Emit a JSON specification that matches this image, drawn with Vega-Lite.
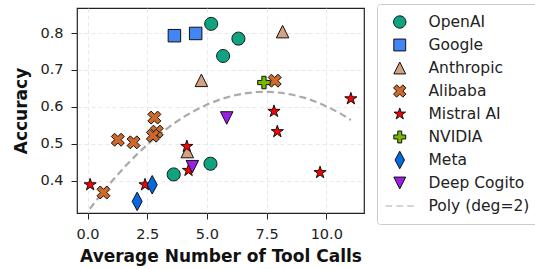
{
  "$schema": "https://vega.github.io/schema/vega-lite/v6.json",
  "width": 287,
  "height": 205,
  "autosize": {"type": "none"},
  "padding": {"left": 77, "top": 8, "right": 171, "bottom": 56},
  "background": "white",
  "config": {
    "font": "DejaVu Sans",
    "view": {"stroke": "#222222", "strokeWidth": 1.2},
    "axis": {
      "domain": false,
      "grid": true,
      "gridColor": "#e3e3e3",
      "gridDash": [4, 3],
      "gridWidth": 0.8,
      "tickColor": "#222222",
      "tickSize": 6,
      "tickWidth": 1,
      "labelFont": "DejaVu Sans",
      "labelFontSize": 14.5,
      "labelColor": "#222222",
      "labelPadding": 8,
      "titleFont": "DejaVu Sans",
      "titleFontSize": 17,
      "titleFontWeight": "bold",
      "titleColor": "#111111"
    }
  },
  "datasets": {
    "models": [
      {"series": "OpenAI", "calls": 5.18, "acc": 0.825},
      {"series": "OpenAI", "calls": 6.32, "acc": 0.785},
      {"series": "OpenAI", "calls": 5.68, "acc": 0.738},
      {"series": "OpenAI", "calls": 3.61, "acc": 0.417},
      {"series": "OpenAI", "calls": 5.15, "acc": 0.446},
      {"series": "Google", "calls": 3.64, "acc": 0.793},
      {"series": "Google", "calls": 4.53, "acc": 0.799},
      {"series": "Anthropic", "calls": 8.17, "acc": 0.804},
      {"series": "Anthropic", "calls": 4.77, "acc": 0.672},
      {"series": "Anthropic", "calls": 4.18, "acc": 0.479},
      {"series": "Alibaba", "calls": 7.84, "acc": 0.671},
      {"series": "Alibaba", "calls": 2.8, "acc": 0.571},
      {"series": "Alibaba", "calls": 2.9, "acc": 0.533},
      {"series": "Alibaba", "calls": 2.74, "acc": 0.522},
      {"series": "Alibaba", "calls": 1.27, "acc": 0.511},
      {"series": "Alibaba", "calls": 1.93, "acc": 0.504},
      {"series": "Alibaba", "calls": 0.67, "acc": 0.368},
      {"series": "Mistral AI", "calls": 0.11, "acc": 0.389},
      {"series": "Mistral AI", "calls": 2.41, "acc": 0.389},
      {"series": "Mistral AI", "calls": 4.16, "acc": 0.493},
      {"series": "Mistral AI", "calls": 4.23, "acc": 0.428},
      {"series": "Mistral AI", "calls": 7.81, "acc": 0.588},
      {"series": "Mistral AI", "calls": 7.95, "acc": 0.533},
      {"series": "Mistral AI", "calls": 9.74, "acc": 0.422},
      {"series": "Mistral AI", "calls": 11.03, "acc": 0.622},
      {"series": "NVIDIA", "calls": 7.39, "acc": 0.666},
      {"series": "Meta", "calls": 2.71, "acc": 0.389},
      {"series": "Meta", "calls": 2.08, "acc": 0.344},
      {"series": "Deep Cogito", "calls": 5.83, "acc": 0.57},
      {"series": "Deep Cogito", "calls": 4.39, "acc": 0.438}
    ],
    "poly": [
      {"calls": 0.1, "acc": 0.324},
      {"calls": 0.6, "acc": 0.3658},
      {"calls": 1.1, "acc": 0.4046},
      {"calls": 1.6, "acc": 0.4405},
      {"calls": 2.1, "acc": 0.4734},
      {"calls": 2.6, "acc": 0.5034},
      {"calls": 3.1, "acc": 0.5304},
      {"calls": 3.6, "acc": 0.5544},
      {"calls": 4.1, "acc": 0.5756},
      {"calls": 4.6, "acc": 0.5937},
      {"calls": 5.1, "acc": 0.609},
      {"calls": 5.6, "acc": 0.6212},
      {"calls": 6.1, "acc": 0.6306},
      {"calls": 6.6, "acc": 0.6369},
      {"calls": 7.1, "acc": 0.6404},
      {"calls": 7.6, "acc": 0.6408},
      {"calls": 8.1, "acc": 0.6384},
      {"calls": 8.6, "acc": 0.6329},
      {"calls": 9.1, "acc": 0.6245},
      {"calls": 9.6, "acc": 0.6132},
      {"calls": 10.1, "acc": 0.5989},
      {"calls": 10.6, "acc": 0.5817},
      {"calls": 11.03, "acc": 0.5645}
    ]
  },
  "encoding": {
    "x": {
      "field": "calls",
      "type": "quantitative",
      "scale": {"domain": [-0.44, 11.58], "nice": false, "zero": false},
      "axis": {"values": [0, 2.5, 5, 7.5, 10], "format": ".1f", "title": "Average Number of Tool Calls", "titlePadding": 8}
    },
    "y": {
      "field": "acc",
      "type": "quantitative",
      "scale": {"domain": [0.3125, 0.868], "nice": false, "zero": false},
      "axis": {"values": [0.4, 0.5, 0.6, 0.7, 0.8], "format": ".1f", "title": "Accuracy", "titlePadding": 9}
    }
  },
  "layer": [
    {
      "data": {"name": "poly"},
      "mark": {"type": "line", "color": "#aaaaaa", "strokeWidth": 2.2, "strokeDash": [7, 4]},
      "encoding": {}
    },
    {
      "data": {"name": "models"},
      "mark": {"type": "point", "filled": true, "opacity": 1, "strokeWidth": 1, "size": 100},
      "encoding": {
        "fill": {
          "field": "series", "type": "nominal",
          "scale": {
            "domain": ["OpenAI", "Google", "Anthropic", "Alibaba", "Mistral AI", "NVIDIA", "Meta", "Deep Cogito", "Poly (deg=2)"],
            "range": ["#10a37f", "#4285f4", "#d4a27f", "#cd6a2a", "#ff0000", "#76b900", "#0668e1", "#9a1ee6", "#aaaaaa"]
          },
          "legend": {
            "orient": "none", "legendX": 300, "legendY": -4, "title": null,
            "strokeColor": "#cccccc", "fillColor": "white", "cornerRadius": 3,
            "padding": 8, "labelFontSize": 15.5, "labelFont": "DejaVu Sans", "labelColor": "#222222",
            "rowPadding": 3, "clipHeight": 20, "labelOffset": 21, "symbolOffset": 7, "symbolStrokeWidth": 1, "symbolSize": 90
          }
        },
        "stroke": {
          "field": "series", "type": "nominal",
          "scale": {
            "domain": ["OpenAI", "Google", "Anthropic", "Alibaba", "Mistral AI", "NVIDIA", "Meta", "Deep Cogito", "Poly (deg=2)"],
            "range": ["#111111", "#111111", "#111111", "#111111", "#111111", "#111111", "#111111", "#111111", "#aaaaaa"]
          },
          "legend": {
            "orient": "none", "legendX": 300, "legendY": -4, "title": null,
            "strokeColor": "#cccccc", "fillColor": "white", "cornerRadius": 3,
            "padding": 8, "labelFontSize": 15.5, "labelFont": "DejaVu Sans", "labelColor": "#222222",
            "rowPadding": 3, "clipHeight": 20, "labelOffset": 21, "symbolOffset": 7, "symbolStrokeWidth": 1, "symbolSize": 90
          }
        },
        "shape": {
          "field": "series", "type": "nominal",
          "scale": {
            "domain": ["OpenAI", "Google", "Anthropic", "Alibaba", "Mistral AI", "NVIDIA", "Meta", "Deep Cogito", "Poly (deg=2)"],
            "range": [
              "M1.3,0A1.3,1.3,0,1,1,-1.3,0A1.3,1.3,0,1,1,1.3,0Z",
              "M-1.25,-1.25H1.25V1.25H-1.25Z",
              "M0,-1.25L1.25,1.25L-1.25,1.25Z",
              "M0.65,-1.3L1.3,-0.65L0.65,0L1.3,0.65L0.65,1.3L0,0.65L-0.65,1.3L-1.3,0.65L-0.65,0L-1.3,-0.65L-0.65,-1.3L0,-0.65Z",
              "M0,-1.28L0.287,-0.396L1.217,-0.396L0.465,0.151L0.753,1.036L0,0.489L-0.753,1.036L-0.465,0.151L-1.217,-0.396L-0.287,-0.396Z",
              "M-0.42,-1.25H0.42V-0.42H1.25V0.42H0.42V1.25H-0.42V0.42H-1.25V-0.42H-0.42Z",
              "M0,-1.85L1.0,0L0,1.85L-1.0,0Z",
              "M0,1.25L1.25,-1.25L-1.25,-1.25Z",
              "M-3,0H-1.6M-0.7,0H0.7M1.6,0H3"
            ]
          },
          "legend": {
            "orient": "none", "legendX": 300, "legendY": -4, "title": null,
            "strokeColor": "#cccccc", "fillColor": "white", "cornerRadius": 3,
            "padding": 8, "labelFontSize": 15.5, "labelFont": "DejaVu Sans", "labelColor": "#222222",
            "rowPadding": 3, "clipHeight": 20, "labelOffset": 21, "symbolOffset": 7, "symbolStrokeWidth": 1, "symbolSize": 90
          }
        }
      }
    }
  ]
}
